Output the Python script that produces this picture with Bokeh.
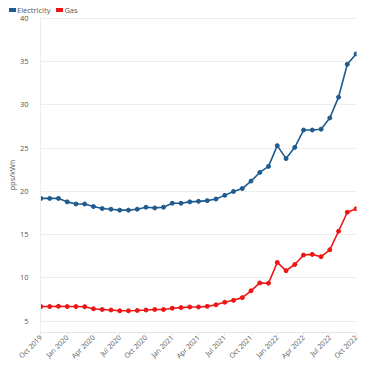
import math
from bokeh.plotting import figure
from bokeh.layouts import column
from bokeh.models import Range1d, FixedTicker, Div
from bokeh.embed import file_html
from bokeh.resources import INLINE

months = ["Oct 2019", "Nov 2019", "Dec 2019", "Jan 2020", "Feb 2020", "Mar 2020",
          "Apr 2020", "May 2020", "Jun 2020", "Jul 2020", "Aug 2020", "Sep 2020",
          "Oct 2020", "Nov 2020", "Dec 2020", "Jan 2021", "Feb 2021", "Mar 2021",
          "Apr 2021", "May 2021", "Jun 2021", "Jul 2021", "Aug 2021", "Sep 2021",
          "Oct 2021", "Nov 2021", "Dec 2021", "Jan 2022", "Feb 2022", "Mar 2022",
          "Apr 2022", "May 2022", "Jun 2022", "Jul 2022", "Aug 2022", "Sep 2022",
          "Oct 2022"]

electricity = [19.2, 19.2, 19.2, 18.8, 18.56, 18.56, 18.26, 18.03, 17.95, 17.84,
               17.84, 17.95, 18.18, 18.1, 18.18, 18.64, 18.64, 18.8, 18.86, 18.94,
               19.13, 19.55, 20.0, 20.34, 21.2, 22.2, 22.9, 25.3, 23.8, 25.1,
               27.1, 27.1, 27.2, 28.5, 30.9, 34.7, 35.9]

gas = [6.7, 6.7, 6.73, 6.7, 6.7, 6.68, 6.44, 6.36, 6.3, 6.21,
       6.21, 6.25, 6.3, 6.36, 6.36, 6.51, 6.58, 6.65, 6.65, 6.72,
       6.9, 7.2, 7.42, 7.73, 8.52, 9.43, 9.4, 11.8, 10.85, 11.56,
       12.65, 12.73, 12.46, 13.26, 15.4, 17.6, 18.0]

series_names = ["Electricity", "Gas"]
tick_labels = ["Oct 2019", "Jan 2020", "Apr 2020", "Jul 2020", "Oct 2020",
               "Jan 2021", "Apr 2021", "Jul 2021", "Oct 2021", "Jan 2022",
               "Apr 2022", "Jul 2022", "Oct 2022"]
y_ticks = [5, 10, 15, 20, 25, 30, 35, 40]

blue = "#1f5b8e"
red = "#ee1515"
colors = [blue, red]
font = "Open Sans"
txt = "#555555"

x = list(range(len(months)))
tick_pos = [months.index(t) for t in tick_labels]

FIG_W = 376
LEG_H = 14
MAIN_H = 366 - LEG_H
LEFT, RIGHT, TOP, BOTTOM = 40, 20, 3, 31

# ---- legend strip (HTML) ----
items_html = ""
for i, (name, col) in enumerate(zip(series_names, colors)):
    gap = "0" if i == 0 else "6px"
    items_html += (
        f'<span style="display:inline-block;width:7px;height:4px;background:{col};'
        f'vertical-align:middle;margin-left:{gap};margin-right:1px"></span>'
        f'<span style="vertical-align:middle">{name}</span>'
    )
legend_div = Div(
    text=(f'<div style="font-family:\'{font}\';font-size:7.5px;color:{txt};'
          f'line-height:8px;padding:2px 0 0 9px;white-space:nowrap">{items_html}</div>'),
    width=FIG_W, height=LEG_H, margin=(0, 0, 0, 0))

# ---- main chart ----
p = figure(width=FIG_W, height=MAIN_H, output_backend="svg", toolbar_location=None,
           x_range=Range1d(-0.05, 36.05), y_range=Range1d(3.7, 40.11),
           min_border_left=LEFT, min_border_right=RIGHT, min_border_top=TOP,
           min_border_bottom=BOTTOM)
p.outline_line_color = None
p.background_fill_color = "white"

p.line(x, electricity, line_color=blue, line_width=1.6)
p.scatter(x, electricity, size=4, fill_color=blue, line_color=blue)
p.line(x, gas, line_color=red, line_width=1.6)
p.scatter(x, gas, size=4, fill_color=red, line_color=red)

p.xaxis.ticker = FixedTicker(ticks=tick_pos)
p.xaxis.major_label_overrides = {pos: lab for pos, lab in zip(tick_pos, tick_labels)}
p.xaxis.major_label_orientation = math.pi / 4
p.xaxis.axis_line_color = "#e6e6e6"
p.xaxis.major_tick_line_color = "#e6e6e6"
p.xaxis.major_tick_out = 3
p.xaxis.major_tick_in = 0
p.xaxis.minor_tick_line_color = None
p.xaxis.major_label_text_font = font
p.xaxis.major_label_text_font_size = "7px"
p.xaxis.major_label_text_color = txt
p.xaxis.major_label_standoff = 1

p.yaxis.ticker = FixedTicker(ticks=y_ticks)
p.yaxis.axis_line_color = "#ececec"
p.yaxis.major_tick_line_color = None
p.yaxis.minor_tick_line_color = None
p.yaxis.major_label_text_font = font
p.yaxis.major_label_text_font_size = "7.5px"
p.yaxis.major_label_text_color = txt
p.yaxis.major_label_standoff = 6
p.yaxis.axis_label = "pps/kWh"
p.yaxis.axis_label_text_font = font
p.yaxis.axis_label_text_font_size = "7.5px"
p.yaxis.axis_label_text_font_style = "normal"
p.yaxis.axis_label_text_color = txt
p.yaxis.axis_label_standoff = 0

p.xgrid.grid_line_color = None
p.ygrid.grid_line_color = "#eeeeee"
p.ygrid.grid_line_width = 1

layout = column(legend_div, p, spacing=0)
open("out.html", "w").write(file_html(layout, INLINE))
